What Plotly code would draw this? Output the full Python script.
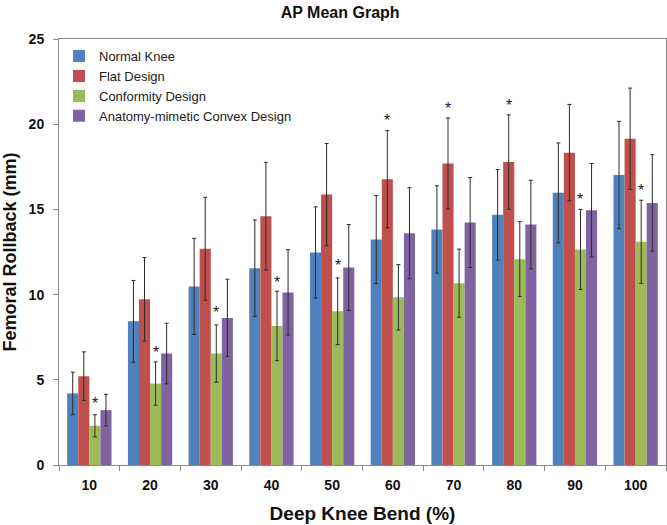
import plotly.graph_objects as go

categories = ["10", "20", "30", "40", "50", "60", "70", "80", "90", "100"]

normal = [4.2, 8.43, 10.48, 11.55, 12.47, 13.23, 13.82, 14.68, 15.97, 17.02]
normal_sd = [1.25, 2.4, 2.82, 2.83, 2.68, 2.58, 2.56, 2.66, 2.93, 3.15]
flat = [5.21, 9.72, 12.69, 14.6, 15.87, 16.77, 17.7, 17.78, 18.33, 19.15]
flat_sd = [1.43, 2.45, 3.02, 3.16, 3.0, 2.85, 2.67, 2.77, 2.83, 2.97]
conformity = [2.3, 4.78, 6.54, 8.16, 9.02, 9.84, 10.67, 12.08, 12.65, 13.1]
conformity_sd = [0.65, 1.27, 1.68, 2.04, 1.96, 1.92, 2.0, 2.2, 2.35, 2.44]
anatomy = [3.22, 6.54, 8.63, 10.13, 11.59, 13.6, 14.23, 14.11, 14.95, 15.38]
anatomy_sd = [0.93, 1.78, 2.27, 2.5, 2.52, 2.67, 2.64, 2.6, 2.74, 2.83]

series_names = ["Normal Knee", "Flat Design", "Conformity Design", "Anatomy-mimetic Convex Design"]
series_colors = ["#4F81BD", "#C0504D", "#9BBB59", "#8064A2"]

star_cats = ["10", "20", "30", "40", "50", "60", "70", "80", "90", "100"]
star_series = [2, 2, 2, 2, 2, 1, 1, 1, 2, 2]
star_y = [3.8, 6.77, 9.15, 10.87, 11.88, 20.37, 21.08, 21.26, 15.77, 16.28]

W, H = 667, 525
margin = dict(l=59, r=1, t=39, b=60)
bargap = 0.27

fig = go.Figure()
for name, color, vals, sds in zip(series_names, series_colors,
                                  [normal, flat, conformity, anatomy],
                                  [normal_sd, flat_sd, conformity_sd, anatomy_sd]):
    fig.add_trace(go.Bar(
        x=categories, y=vals, name=name, marker=dict(color=color, line=dict(width=0)),
        error_y=dict(type="data", array=sds, visible=True, color="#2b2b2b", thickness=1, width=2),
    ))

plot_w = W - margin["l"] - margin["r"]
cat_px = plot_w / len(categories)
bar_px = cat_px * (1 - bargap) / len(series_names)
for c, s, yv in zip(star_cats, star_series, star_y):
    fig.add_annotation(x=categories.index(c), y=yv, text="*", showarrow=False,
                       xshift=(s - 1.5) * bar_px, yshift=-3,
                       font=dict(family="Liberation Sans, Arial", size=16, color="#222"))

axis_font = dict(family="Liberation Sans, Arial", size=14, color="#111")
fig.update_layout(
    width=W, height=H, margin=margin,
    paper_bgcolor="white", plot_bgcolor="white",
    barmode="group", bargap=bargap, bargroupgap=0,
    title=dict(text="<b>AP Mean Graph</b>", x=0.51, xanchor="center", y=0.977, yanchor="middle",
               font=dict(family="Liberation Sans, Arial", size=16, color="#111")),
    legend=dict(x=0.0, y=0.995, xanchor="left", yanchor="top", bgcolor="rgba(0,0,0,0)",
                font=dict(family="Liberation Sans, Arial", size=13, color="#222"),
                tracegroupgap=0),
    xaxis=dict(type="category", range=[-0.5, len(categories) - 0.5],
               showline=True, linecolor="#8a8a8a", linewidth=1, mirror=True,
               ticks="outside", tickson="boundaries", ticklen=5, tickcolor="#8a8a8a",
               tickangle=0, ticklabelstandoff=7, tickfont=axis_font,
               tickprefix="<b>", ticksuffix="</b>",
               title=dict(text="<b>Deep Knee Bend (%)</b>", standoff=14,
                          font=dict(family="Liberation Sans, Arial", size=19, color="#111"))),
    yaxis=dict(range=[0, 25], dtick=5, showgrid=False, zeroline=False,
               showline=True, linecolor="#8a8a8a", linewidth=1, mirror=True,
               ticks="outside", ticklen=5, tickcolor="#8a8a8a", ticklabelstandoff=6,
               tickfont=axis_font, tickprefix="<b>", ticksuffix="</b>",
               title=dict(text="<b>Femoral Rollback (mm)</b>", standoff=8,
                          font=dict(family="Liberation Sans, Arial", size=18, color="#111"))),
)

fig.write_html("out.html", config={"displayModeBar": False},
               post_script="document.body.style.margin='0px';")
